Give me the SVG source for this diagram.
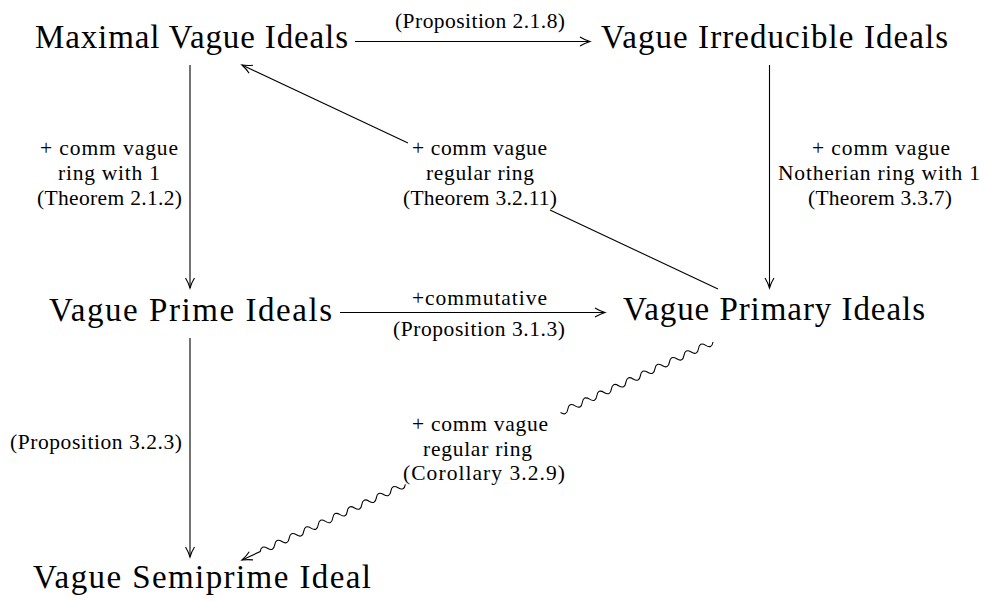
<svg xmlns="http://www.w3.org/2000/svg" width="986" height="601" viewBox="0 0 986 601">
<defs>
<style>
.node{font-family:"Liberation Serif","Times New Roman",serif;font-size:33px;fill:#000}
.lbl{font-family:"Liberation Serif","Times New Roman",serif;font-size:21.5px;fill:#000}
.edge{fill:none;stroke:#000;stroke-width:1.1}
</style>
<marker id="to" viewBox="-12 -6 14 12" refX="0" refY="0" markerWidth="14" markerHeight="12" markerUnits="userSpaceOnUse" orient="auto">
<path d="M-10,-4.5 C-6,-2 -2,-0.6 0,0 C-2,0.6 -6,2 -10,4.5" fill="none" stroke="#000" stroke-width="1.1"/>
</marker>
</defs>
<rect width="986" height="601" fill="#fff"/>
<g id="connectors">
<g id="e-max-irr">
<path class="edge" d="M355,41.5 H590" marker-end="url(#to)"/>
<text class="lbl" x="395" y="28" textLength="170">(Proposition 2.1.8)</text>
</g>
<g id="e-max-prime">
<path class="edge" d="M190,65 V288" marker-end="url(#to)"/>
<text class="lbl" x="40" y="155" textLength="138">+ comm vague</text>
<text class="lbl" x="58" y="180" textLength="102">ring with 1</text>
<text class="lbl" x="37" y="204.5" textLength="145">(Theorem 2.1.2)</text>
</g>
<g id="e-irr-primary">
<path class="edge" d="M769.5,65 V288" marker-end="url(#to)"/>
<text class="lbl" x="812" y="155" textLength="138">+ comm vague</text>
<text class="lbl" x="778" y="180" textLength="202">Notherian ring with 1</text>
<text class="lbl" x="808" y="205" textLength="144">(Theorem 3.3.7)</text>
</g>
<g id="e-primary-max">
<path class="edge" d="M718,289 L550,210 M408,143 L242,65" marker-end="url(#to)"/>
<text class="lbl" x="412" y="155" textLength="135">+ comm vague</text>
<text class="lbl" x="426" y="180" textLength="108">regular ring</text>
<text class="lbl" x="403" y="205" textLength="154">(Theorem 3.2.11)</text>
</g>
<g id="e-prime-primary">
<path class="edge" d="M340,312.5 H605" marker-end="url(#to)"/>
<text class="lbl" x="412" y="305" textLength="135">+commutative</text>
<text class="lbl" x="393" y="336" textLength="172">(Proposition 3.1.3)</text>
</g>
<g id="e-prime-semi">
<path class="edge" d="M190,338 V557" marker-end="url(#to)"/>
<text class="lbl" x="10" y="449" textLength="172">(Proposition 3.2.3)</text>
</g>
<g id="e-primary-semi">
<g transform="translate(713,342) rotate(155.16)">
<path class="edge" d="M0,0 q4,-6 8,0 t8,0 t8,0 t8,0 t8,0 t8,0 t8,0 t8,0 t8,0 t8,0 t8,0 t8,0 t8,0 t8,0 t8,0 t8,0 t8,0 t8,0 t8,0 t8,0 t8,0"/>
<path class="edge" d="M339,0 q4,-6 8,0 t8,0 t8,0 t8,0 t8,0 t8,0 t8,0 t8,0 t8,0 t8,0 t8,0 t8,0 t8,0 t8,0 t8,0 t8,0 t8,0 t8,0 t8,0 t8,0 L519,0" marker-end="url(#to)"/>
</g>
<text class="lbl" x="412" y="431" textLength="136">+ comm vague</text>
<text class="lbl" x="423" y="456" textLength="109">regular ring</text>
<text class="lbl" x="403" y="480" textLength="162">(Corollary 3.2.9)</text>
</g>
</g>
<g id="n-max"><text class="node" x="35" y="48" textLength="313">Maximal Vague Ideals</text></g>
<g id="n-irr"><text class="node" x="601" y="48" textLength="347">Vague Irreducible Ideals</text></g>
<g id="n-prime"><text class="node" x="49" y="321" textLength="283">Vague Prime Ideals</text></g>
<g id="n-primary"><text class="node" x="623" y="320" textLength="302">Vague Primary Ideals</text></g>
<g id="n-semi"><text class="node" x="33" y="588" textLength="338">Vague Semiprime Ideal</text></g>
</svg>
